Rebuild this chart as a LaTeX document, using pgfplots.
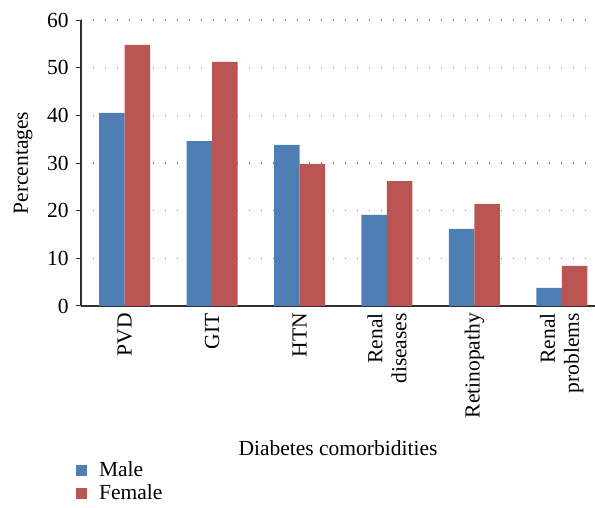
\documentclass[border=0pt]{standalone}
\usepackage{fontspec}
\setmainfont{Liberation Serif}
\usepackage{pgfplots}
\pgfplotsset{compat=1.18}

\definecolor{maleBlue}{HTML}{4F7EB5}
\definecolor{femaleRed}{HTML}{BA5553}
\definecolor{axisGrey}{HTML}{303030}

\begin{document}
\fontsize{21.5}{24}\selectfont
\begin{tikzpicture}
\path[use as bounding box] (-81pt,-202pt) rectangle (514pt,306pt);
\begin{axis}[
    scale only axis,
    width=514pt, height=286pt,
    ybar=0pt, bar width=25.5pt,
    xmin=-0.5, xmax=5.38,
    ymin=0, ymax=60,
    ytick={0,10,...,60},
    xtick={0,...,5},
    xticklabels={PVD, GIT, HTN, {Renal\\diseases}, Retinopathy, {Renal\\problems}},
    xticklabel style={rotate=90, anchor=east, align=right, inner sep=2pt},
    major x tick style={draw=none},
    extra x ticks={-0.5,0.5,...,4.5},
    extra x tick labels={},
    extra x tick style={major tick style={draw=axisGrey, line width=1pt}, major tick length=6pt},
    tick align=outside,
    major tick length=5pt,
    y tick style={draw=axisGrey, line width=1pt},
    axis x line*=bottom, axis y line*=left,
    axis line style={draw=axisGrey, line width=1.2pt, -},
    ymajorgrids,
    major grid style={draw=gray, line width=1.3pt, dash pattern=on 1.3pt off 10.7pt},
    xlabel={Diabetes comorbidities},
    xlabel style={yshift=-2pt},
    ylabel={Percentages},
    /pgf/number format/assume math mode=true,
    legend style={draw=none, fill=none, at={(-0.01,-0.54)}, anchor=north west,
        row sep=4pt, inner sep=0pt, legend cell align=left,
        nodes={inner xsep=12pt, inner ysep=0.5pt}},
    legend cell align=left,
]
\addplot[fill=maleBlue, draw=none,
    legend image code/.code={\fill[maleBlue] (0pt,-5.5pt) rectangle (11pt,5.5pt);}]
    coordinates {(0,40.5) (1,34.6) (2,33.8) (3,19.1) (4,16.2) (5,3.8)};
\addplot[fill=femaleRed, draw=none,
    legend image code/.code={\fill[femaleRed] (0pt,-5.5pt) rectangle (11pt,5.5pt);}]
    coordinates {(0,54.8) (1,51.2) (2,29.8) (3,26.2) (4,21.4) (5,8.4)};
\legend{Male, Female}
\end{axis}
\end{tikzpicture}
\end{document}
